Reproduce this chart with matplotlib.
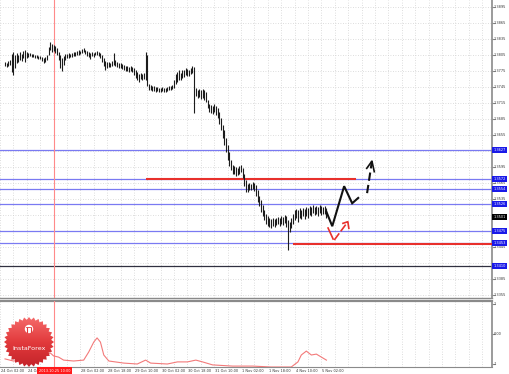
import numpy as np
import matplotlib
matplotlib.use("Agg")
import matplotlib.pyplot as plt
from matplotlib.patches import Polygon, Circle
from matplotlib.colors import LinearSegmentedColormap

# ---------------- data ----------------
high = [
 1.3792, 1.3790, 1.3794, 1.3796,
 1.3807, 1.3811, 1.3805,
 1.3809, 1.3805, 1.3811, 1.3807, 1.3812,
 1.3814, 1.3811, 1.3809,
 1.3809, 1.3807, 1.3807, 1.3805, 1.3805, 1.3803, 1.3803,
 1.3801, 1.3799, 1.3801, 1.3805,
 1.3820, 1.3829, 1.3826, 1.3824, 1.3822, 1.3818,
 1.3811,
 1.3805, 1.3799, 1.3803, 1.3807,
 1.3807, 1.3809, 1.3807, 1.3809, 1.3811, 1.3811, 1.3812, 1.3814, 1.3812,
 1.3816, 1.3818, 1.3814, 1.3812,
 1.3811, 1.3809, 1.3811, 1.3809,
 1.3811, 1.3812, 1.3811, 1.3809,
 1.3805, 1.3799, 1.3794, 1.3792,
 1.3792, 1.3790, 1.3794,
 1.3809,
 1.3796, 1.3792, 1.3790, 1.3790,
 1.3788, 1.3786, 1.3784, 1.3784, 1.3782, 1.3784, 1.3782,
 1.3781, 1.3777, 1.3773, 1.3769, 1.3771,
 1.3769,
 1.3771,
 1.3811,
 1.3805,
 1.3751, 1.3749, 1.3747,
 1.3747, 1.3745, 1.3745, 1.3743, 1.3743, 1.3745, 1.3743, 1.3743, 1.3745, 1.3747, 1.3747, 1.3749,
 1.3758, 1.3769, 1.3773, 1.3777, 1.3771, 1.3777,
 1.3777, 1.3781, 1.3779, 1.3777, 1.3781, 1.3784,
 1.3782,
 1.3743, 1.3739, 1.3741, 1.3739,
 1.3741, 1.3739, 1.3736,
 1.3721, 1.3713, 1.3711, 1.3709, 1.3713, 1.3709, 1.3706,
 1.3698, 1.3687, 1.3674, 1.3664, 1.3649, 1.3636, 1.3623, 1.3608,
 1.3599, 1.3597, 1.3595, 1.3593, 1.3597, 1.3599, 1.3593, 1.3582,
 1.3571, 1.3563, 1.3565, 1.3563, 1.3567, 1.3565, 1.3561, 1.3552,
 1.3541, 1.3533, 1.3524, 1.3514, 1.3507, 1.3503, 1.3499, 1.3498,
 1.3499, 1.3498, 1.3499, 1.3501, 1.3499, 1.3503, 1.3501, 1.3505,
 1.3503, 1.3496, 1.3492, 1.3499, 1.3507, 1.3514, 1.3516, 1.3514,
 1.3518, 1.3514, 1.3518, 1.3516, 1.3520, 1.3518, 1.3522, 1.3520,
 1.3524, 1.3520, 1.3522, 1.3520, 1.3524, 1.3522, 1.3520, 1.3522,
 1.3518,
]
low = [
 1.3784, 1.3782, 1.3784, 1.3786,
 1.3773, 1.3767, 1.3781,
 1.3790, 1.3792, 1.3796, 1.3794, 1.3799,
 1.3792, 1.3799, 1.3801,
 1.3803, 1.3801, 1.3801, 1.3799, 1.3799, 1.3797, 1.3797,
 1.3794, 1.3790, 1.3792, 1.3796,
 1.3805, 1.3814, 1.3811, 1.3812, 1.3809, 1.3805,
 1.3796,
 1.3781, 1.3775, 1.3786, 1.3796,
 1.3799, 1.3799, 1.3801, 1.3801, 1.3803, 1.3803, 1.3805, 1.3805, 1.3807,
 1.3809, 1.3811, 1.3807, 1.3803,
 1.3801, 1.3797, 1.3803, 1.3801,
 1.3805, 1.3805, 1.3803, 1.3799,
 1.3792, 1.3784, 1.3777, 1.3781,
 1.3782, 1.3782, 1.3784,
 1.3786,
 1.3784, 1.3782, 1.3781, 1.3781,
 1.3779, 1.3777, 1.3775, 1.3775, 1.3773, 1.3775, 1.3773,
 1.3767, 1.3762, 1.3758, 1.3754, 1.3760,
 1.3758,
 1.3760,
 1.3758,
 1.3747,
 1.3739, 1.3739, 1.3737,
 1.3737, 1.3736, 1.3737, 1.3736, 1.3736, 1.3737, 1.3736, 1.3736, 1.3737, 1.3739, 1.3739, 1.3741,
 1.3743, 1.3751, 1.3754, 1.3758, 1.3758, 1.3762,
 1.3764, 1.3767, 1.3765, 1.3765, 1.3769, 1.3771,
 1.3696,
 1.3728, 1.3724, 1.3726, 1.3722,
 1.3724, 1.3721, 1.3717,
 1.3706, 1.3698, 1.3696, 1.3694, 1.3698, 1.3693, 1.3687,
 1.3676, 1.3664, 1.3649, 1.3636, 1.3623, 1.3608, 1.3597, 1.3589,
 1.3582, 1.3582, 1.3578, 1.3580, 1.3582, 1.3586, 1.3574, 1.3559,
 1.3548, 1.3548, 1.3552, 1.3552, 1.3554, 1.3550, 1.3541, 1.3529,
 1.3522, 1.3511, 1.3503, 1.3496, 1.3488, 1.3484, 1.3482, 1.3481,
 1.3484, 1.3482, 1.3486, 1.3488, 1.3484, 1.3488, 1.3486, 1.3490,
 1.3482, 1.3439, 1.3473, 1.3481, 1.3488, 1.3496, 1.3499, 1.3492,
 1.3499, 1.3498, 1.3503, 1.3498, 1.3503, 1.3499, 1.3505, 1.3503,
 1.3509, 1.3505, 1.3507, 1.3503, 1.3509, 1.3505, 1.3507, 1.3507,
 1.3499,
]
last_price = 1.3501

price_ticks = [1.3895, 1.3865, 1.3835, 1.3805, 1.3775, 1.3745, 1.3715, 1.3685,
               1.3655, 1.3625, 1.3595, 1.3565, 1.3535, 1.3505, 1.3475, 1.3445,
               1.3415, 1.3385, 1.3355]
blue_levels = [1.3627, 1.3572, 1.3554, 1.3526, 1.3475, 1.3453]
dark_level = 1.3410
red_level_1 = 1.3572
red_level_2 = 1.3450

# time axis labels (one every 16 hourly bars); the 25 Oct 10:00 one sits under the red marker
time_labels = ["24 Oct 02:00", "24 Oct 18:00", None, "28 Oct 02:00",
               "28 Oct 18:00", "29 Oct 10:00", "30 Oct 02:00", "30 Oct 18:00",
               "31 Oct 10:00", "1 Nov 02:00", "1 Nov 18:00", "4 Nov 10:00",
               "5 Nov 02:00"]
vline_bar = 29
vline_label = "2013.10.25 10:00"

# indicator (lower pane)
ind_bar = [0, 5, 11, 17, 23, 27, 29, 32, 35, 41, 47, 50, 53, 55, 57, 59, 62, 71, 79,
           84, 87, 97, 103, 109, 114, 118, 124, 136, 148, 159, 171, 175, 177, 180,
           183, 186, 189, 192]
ind_val = [-0.83, -0.90, -0.87, -0.80, -0.73, -0.63, -0.73, -0.77, -0.87, -0.90,
           -0.87, -0.60, -0.27, -0.13, -0.27, -0.70, -0.90, -0.97, -1.00, -0.87,
           -0.97, -1.00, -0.93, -0.93, -0.87, -0.93, -1.03, -1.07, -1.07, -1.10,
           -1.10, -0.93, -0.70, -0.57, -0.70, -0.67, -0.77, -0.87]
ind_levels = [1, 0, -1]
ind_level_labels = ["1", "0.00", "-1"]

# hand-drawn forecast arrows
fc_black_bar = [192, 195.5, 202.6, 207.4, 211]
fc_black_px = [1.3511, 1.3484, 1.3559, 1.3527, 1.3537]
fc_dash_bar = [216.3, 219.2]
fc_dash_px = [1.3546, 1.3606]
fc_dash_head_bar = [216.1, 219.2, 220.6]
fc_dash_head_px = [1.35925, 1.3606, 1.35862]
fc_red1_bar = [193, 196]
fc_red1_px = [1.34806, 1.34600]
fc_red2_bar = [196.7, 204.8]
fc_red2_px = [1.34581, 1.34924]
fc_red_head_bar = [201.9, 204.8, 205.4]
fc_red_head_px = [1.34894, 1.34924, 1.34800]

# ---------------- figure ----------------
W, H = 510, 374
fig = plt.figure(figsize=(W / 100, H / 100), dpi=100)
fig.patch.set_facecolor("white")

ax = fig.add_axes([0, 1 - 298 / H, 492 / W, 298 / H])
ax2 = fig.add_axes([0, 7 / H, 492 / W, 66 / H])

n = len(high)
bars = np.arange(n)
xl = (-0.63, 290.93)
for a in (ax, ax2):
    a.set_xlim(*xl)
    a.set_facecolor("white")
    a.spines["left"].set_visible(False)
    for s in ("right", "bottom", "top"):
        a.spines[s].set_color("#8a8a8a")
    a.set_xticks(np.arange(-3, 292, 8))
    a.tick_params(axis="x", length=0, labelbottom=False)
    a.grid(True, axis="x", color="#d2d2d2", lw=0.6, ls=(0, (1, 2)))
    a.axvline(vline_bar, color="#ff8a8a", lw=0.8, zorder=3)

ax.spines["top"].set_visible(False)
ax.spines["right"].set_linewidth(1.2)
ax.spines["bottom"].set_linewidth(1.0)
ax2.spines["top"].set_linewidth(1.6)
ax2.spines["right"].set_linewidth(1.2)
ax2.spines["bottom"].set_linewidth(0.8)

ax.set_ylim(1.33494, 1.39081)
ax.set_yticks(price_ticks)
ax.tick_params(axis="y", left=False, right=True, length=2, color="#8a8a8a",
               labelleft=False, labelright=False)
ax.grid(True, axis="y", color="#d2d2d2", lw=0.6, ls=(0, (1, 2)))

# bars
ax.vlines(bars, low, high, color="#1c1c1c", lw=0.8, zorder=4)

# horizontal levels
for lv in blue_levels:
    ax.axhline(lv, color="#7a7af2", lw=0.9, zorder=2)
ax.axhline(dark_level, color="#303040", lw=0.9, zorder=2)
ax.hlines(red_level_1, 84, 209.7, color="#e8302c", lw=1.5, zorder=3)
ax.hlines(red_level_2, 172.2, xl[1], color="#e8302c", lw=1.5, zorder=3)

# forecast arrows
ax.plot(fc_black_bar, fc_black_px, color="#111111", lw=1.5, zorder=6,
        solid_joinstyle="miter")
ax.plot(fc_dash_bar, fc_dash_px, color="#111111", lw=1.5, ls=(0, (4, 2)), zorder=6)
ax.plot(fc_dash_head_bar, fc_dash_head_px, color="#111111", lw=1.2, zorder=6)
ax.plot(fc_red1_bar, fc_red1_px, color="#e8302c", lw=1.2, zorder=6)
ax.plot(fc_red2_bar, fc_red2_px, color="#e8302c", lw=1.2, ls=(0, (5, 1.5)), zorder=6)
ax.plot(fc_red_head_bar, fc_red_head_px, color="#e8302c", lw=1.2, zorder=6)

# price axis labels (grey ones hidden where a level box covers them)
ytr = ax.get_yaxis_transform()
boxed = blue_levels + [dark_level, last_price]
for p in price_ticks:
    if min(abs(p - b) for b in boxed) < 0.0006:
        continue
    ax.text(1.004, p, f"{p:.4f}", transform=ytr, fontsize=2.5, color="#333333",
            va="center", ha="left", clip_on=False, zorder=5)
for lv in blue_levels + [dark_level]:
    ax.text(1.003, lv, f"{lv:.4f}", transform=ytr, fontsize=2.5, color="white",
            va="center", ha="left", clip_on=False, zorder=7,
            bbox=dict(boxstyle="square,pad=0.3", fc="#1a1ae8", ec="none"))
ax.text(1.003, last_price, f"{last_price:.4f}", transform=ytr, fontsize=2.5,
        color="white", va="center", ha="left", clip_on=False, zorder=7,
        bbox=dict(boxstyle="square,pad=0.3", fc="#000000", ec="none"))

# indicator pane
ax2.set_ylim(-1.1, 1.1)
ax2.set_yticks(ind_levels)
ax2.tick_params(axis="y", left=False, right=True, length=2, color="#8a8a8a",
                labelleft=False, labelright=False)
ax2.plot(ind_bar, ind_val, color="#f37a7a", lw=0.8, zorder=4)
ytr2 = ax2.get_yaxis_transform()
for v, t in zip(ind_levels, ind_level_labels):
    ax2.text(1.004, v, t, transform=ytr2, fontsize=2.5, color="#333333",
             va="center", ha="left", clip_on=False)

# time labels
xtr = ax2.get_xaxis_transform()
for k, lab in enumerate(time_labels):
    if lab is None:
        continue
    b = -3 + 16 * k
    txt = lab if k != 1 else "24 Oct"
    ax2.text(b + 0.6, -0.055, txt, transform=xtr, fontsize=2.5, color="#333333",
             va="center", ha="left", clip_on=False)
ax2.text(vline_bar + 0.5, -0.06, vline_label, transform=xtr, fontsize=2.5,
         color="white", va="center", ha="center", clip_on=False, zorder=8,
         bbox=dict(boxstyle="square,pad=0.45", fc="#ff1a1a", ec="none"))

# ---------------- logo overlay ----------------
ov = fig.add_axes([0, 0, 1, 1], zorder=10)
ov.set_xlim(0, W)
ov.set_ylim(H, 0)
ov.axis("off")
ov.patch.set_alpha(0)
cx, cy, ro, ri, nsp = 29, 342, 25, 22.3, 32
ang = np.linspace(0, 2 * np.pi, 2 * nsp, endpoint=False)
rad = np.where(np.arange(2 * nsp) % 2 == 0, ro, ri)
pts = np.column_stack([cx + rad * np.cos(ang), cy + rad * np.sin(ang)])
star = Polygon(pts, closed=True, fc="none", ec="none")
ov.add_patch(star)
grad = np.linspace(0, 1, 64).reshape(-1, 1)
cm = LinearSegmentedColormap.from_list("lg", ["#f46a6a", "#e23a3c", "#c4242a"])
im = ov.imshow(grad, cmap=cm, extent=(cx - ro, cx + ro, cy + ro, cy - ro),
               aspect="auto", zorder=11)
im.set_clip_path(star)
ov.add_patch(Circle((cx, cy - 13), 4.2, fc="white", ec="none", zorder=12))
ov.plot([cx - 1.6, cx - 1.6], [cy - 14.5, cy - 10.5], color="#e03a3c", lw=0.8, zorder=13)
ov.plot([cx + 1.6, cx + 1.6], [cy - 14.5, cy - 10.5], color="#e03a3c", lw=0.8, zorder=13)
ov.plot([cx - 2.5, cx + 2.5], [cy - 15, cy - 15], color="#e03a3c", lw=0.6, zorder=13)
ov.text(cx, cy + 7, "InstaForex", color="white", fontsize=4.6, ha="center",
        va="center", zorder=13)

fig.savefig("out.png", dpi=100, facecolor="white")
